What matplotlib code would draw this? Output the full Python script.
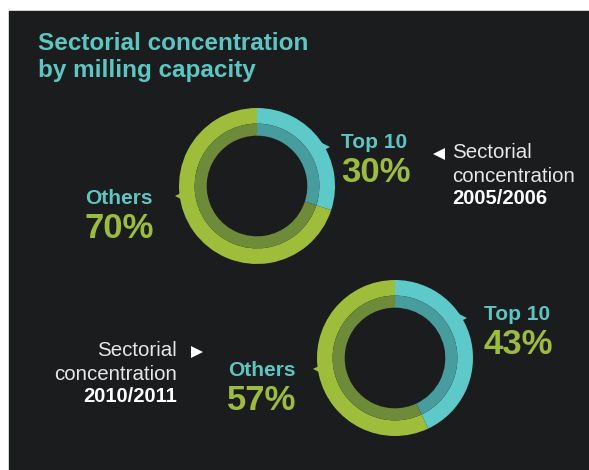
import matplotlib
matplotlib.use("Agg")
import matplotlib.pyplot as plt
from matplotlib.patches import Rectangle
import numpy as np

plt.rcParams['font.family'] = ['Liberation Sans', 'DejaVu Sans']

# ---- data ----
title_lines = ["Sectorial concentration", "by milling capacity"]
categories = ["Top 10", "Others"]
share_2005 = [30, 70]
share_2010 = [43, 57]
period_labels = ["2005/2006", "2010/2011"]

W, H = 589, 470
BG = "#1b1c1e"
CYAN = "#5ec9c9"
CYAN_D = "#479c9e"
GREEN = "#9dbd3b"
GREEN_D = "#6e8b39"
CYAN_TXT = "#5cc6c2"
GREEN_TXT = "#9bbc3c"

fig = plt.figure(figsize=(W / 100, H / 100), dpi=100, facecolor="white")
bg = fig.add_axes([0, 0, 1, 1])
bg.set_xlim(0, W)
bg.set_ylim(H, 0)
bg.axis("off")
bg.add_patch(Rectangle((9, 11), W - 9, H - 11, color=BG, zorder=0))


def donut(cx, cy, r, values):
    ax = fig.add_axes([(cx - r) / W, (H - cy - r) / H, 2 * r / W, 2 * r / H])
    ax.pie(values, radius=1.0, startangle=90, counterclock=False,
           colors=[CYAN, GREEN], wedgeprops=dict(width=0.2, linewidth=0))
    ax.pie(values, radius=0.80, startangle=90, counterclock=False,
           colors=[CYAN_D, GREEN_D], wedgeprops=dict(width=0.155, linewidth=0))
    ax.set_xlim(-1, 1)
    ax.set_ylim(-1, 1)
    ax.axis("off")
    return ax


def notch(ax, ang_deg, color, marker):
    a = np.deg2rad(ang_deg)
    ax.plot([1.0 * np.cos(a)], [1.0 * np.sin(a)], marker=marker, color=color,
            markersize=7, clip_on=False, markeredgewidth=0)


ax1 = donut(257, 186, 78, share_2005)
notch(ax1, 30, CYAN, ">")
notch(ax1, 187, GREEN, "<")

ax2 = donut(395, 358, 78, share_2010)
notch(ax2, 31, CYAN, ">")
notch(ax2, 188, GREEN, "<")

# ---- title ----
bg.text(38, 43, title_lines[0], color=CYAN_TXT, fontsize=17.5, fontweight="bold",
        va="center", ha="left")
bg.text(38, 70, title_lines[1], color=CYAN_TXT, fontsize=17.5, fontweight="bold",
        va="center", ha="left")

# ---- donut labels ----
def seg_label(x, y, name, pct, ha):
    bg.text(x, y, name, color=CYAN_TXT, fontsize=15, fontweight="bold", ha=ha, va="center")
    bg.text(x, y + 30, f"{pct}%", color=GREEN_TXT, fontsize=25, fontweight="bold", ha=ha, va="center")

seg_label(341, 143, categories[0], share_2005[0], "left")
seg_label(119, 198, categories[1], share_2005[1], "center")
seg_label(484, 315, categories[0], share_2010[0], "left")
seg_label(262, 370, categories[1], share_2010[1], "center")

# ---- period labels ----
bg.plot([439], [154], marker="<", color="white", markersize=8, markeredgewidth=0)
bg.text(452, 153, "Sectorial", color="#e6e6e6", fontsize=14.8, ha="left", va="center")
bg.text(452, 176, "concentration", color="#e6e6e6", fontsize=14.8, ha="left", va="center")
bg.text(452, 198, period_labels[0], color="white", fontsize=14.5, fontweight="bold", ha="left", va="center")

bg.plot([197], [352], marker=">", color="white", markersize=8, markeredgewidth=0)
bg.text(177, 351, "Sectorial", color="#e6e6e6", fontsize=14.8, ha="right", va="center")
bg.text(177, 374, "concentration", color="#e6e6e6", fontsize=14.8, ha="right", va="center")
bg.text(177, 397, period_labels[1], color="white", fontsize=14.5, fontweight="bold", ha="right", va="center")

fig.savefig("out.png", dpi=100, facecolor=fig.get_facecolor())
